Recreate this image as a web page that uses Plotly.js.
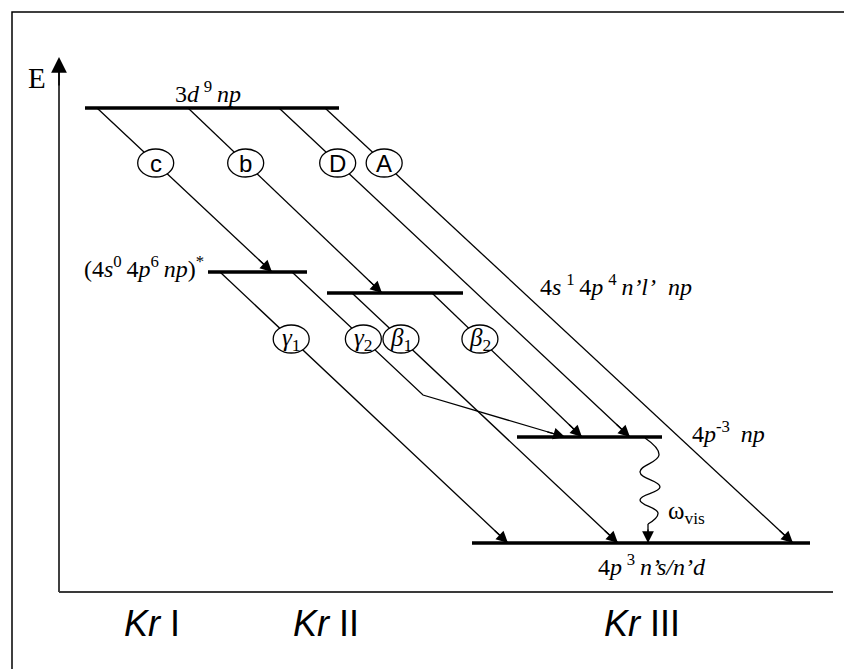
<!DOCTYPE html>
<html><head><meta charset="utf-8">
<script src="https://cdn.plot.ly/plotly-3.0.1.min.js"></script>
<style>html,body{margin:0;padding:0;background:#fff}</style>
</head><body><div id="chart" style="width:844px;height:669px"></div>
<script>
const T = '\u2009'; // thin space used around superscripts, as in the reference typesetting

// ---- Energy levels (E = energy in arbitrary diagram units; x = horizontal extent) ----
const levelNames = [
  '3<i>d</i>' + T + '<sup>9</sup>' + T + '<i>np</i>',
  '(4<i>s</i><sup>0</sup>' + T + '4<i>p</i><sup>6</sup>' + T + '<i>np</i>)<sup>*</sup>',
  '',
  '4<i>p</i><sup>-3</sup>' + T + ' <i>np</i>',
  '4<i>p</i>' + T + '<sup>3</sup>' + T + '<i>n’s/n’d</i>'
];
const levelE  = [484, 320, 299, 155, 49];
const levelX0 = [85, 208, 327, 517, 472];
const levelX1 = [339, 307, 463, 662, 810];
const intermediateLabel = '4<i>s</i>' + T + '<sup>1</sup>' + T + '4<i>p</i>' + T + '<sup>4</sup>' + T + '<i>n’l’</i>  <i>np</i>';

// ---- Transitions ----
const transLabels = ['c', 'b', 'D', 'A', '<i>γ</i><sub>1</sub>', '<i>γ</i><sub>2</sub>', '<i>β</i><sub>1</sub>', '<i>β</i><sub>2</sub>'];
const transFrom   = [0, 0, 0, 0, 1, 1, 2, 2];
const transFromX  = [97, 188, 279, 325, 220, 292, 352, 432];
const transTo     = [1, 2, 3, 4, 4, 3, 4, 3];
const transToX    = [272, 382, 630, 793, 508, 565, 618, 582];
const transBendX  = [null, null, null, null, null, 423, null, null];
const transBendE  = [null, null, null, null, null, 197, null, null];
const transLabelE = [429, 429, 429, 429, 253, 253, 253, 253];

// ---- Radiative decay (wavy line) ----
const waveX = [645, 659, 640, 660, 640, 658, 648];
const waveE = [154, 137, 120, 105, 92, 79, 68];

// ---- Ion stage labels ----
const stageLabels = ['<i>Kr</i> I', '<i>Kr</i> II', '<i>Kr</i> III'];
const stageX = [152, 326, 642];

const SERIF = '"Liberation Serif", "Times New Roman", serif';
const SANS = '"Liberation Sans", Arial, sans-serif';

const traces = [];
const shapes = [];
const annotations = [];

// frame
shapes.push({type:'rect', xref:'x', yref:'y', x0:12, x1:900, y0:-200, y1:580, line:{color:'#000', width:1.5}, fillcolor:'rgba(0,0,0,0)', layer:'below'});

// axes
traces.push({x:[59,59], y:[0,522], mode:'lines', line:{color:'#000', width:1.5}, hoverinfo:'skip'});
traces.push({x:[59,833], y:[0,0], mode:'lines', line:{color:'#3a3a3a', width:2}, hoverinfo:'skip'});
annotations.push({x:59, y:535, ax:59, ay:505, xref:'x', yref:'y', axref:'x', ayref:'y', text:'', showarrow:true, arrowhead:2, arrowsize:2.1, arrowwidth:1.5, arrowcolor:'#000'});
annotations.push({x:37, y:514, xref:'x', yref:'y', text:'E', showarrow:false, font:{family:SERIF, size:29, color:'#000'}});

// levels
levelE.forEach((E, i) => {
  traces.push({x:[levelX0[i], levelX1[i]], y:[E, E], mode:'lines', line:{color:'#000', width:3.5}, hoverinfo:'skip'});
});

// transitions
transLabels.forEach((lab, i) => {
  const x0 = transFromX[i], e0 = levelE[transFrom[i]];
  const x1 = transToX[i], e1 = levelE[transTo[i]];
  const xs = [x0], es = [e0];
  if (transBendX[i] !== null) { xs.push(transBendX[i]); es.push(transBendE[i]); }
  xs.push(x1); es.push(e1);
  traces.push({x:xs, y:es, mode:'lines', line:{color:'#000', width:1.3}, hoverinfo:'skip'});
  // arrowhead at the end of the last segment
  const px = xs[xs.length-2], pe = es[es.length-2];
  const L = Math.hypot(x1-px, e1-pe);
  const tx = x1 - (x1-px)/L*20, te = e1 - (e1-pe)/L*20;
  annotations.push({x:x1, y:e1, ax:tx, ay:te, xref:'x', yref:'y', axref:'x', ayref:'y', text:'', showarrow:true, arrowhead:2, arrowsize:1.8, arrowwidth:1.3, arrowcolor:'#000'});
  // label circle on first segment
  const le = transLabelE[i];
  const sx = xs[1], se = es[1];
  const cx = x0 + (sx - x0) * (le - e0) / (se - e0);
  shapes.push({type:'circle', xref:'x', yref:'y', x0:cx-18, x1:cx+18, y0:le-14, y1:le+14, fillcolor:'#fff', line:{color:'#000', width:1.3}, layer:'above'});
  const greek = lab.indexOf('<i>') === 0;
  annotations.push({x:cx, y:le, xref:'x', yref:'y', text:lab, showarrow:false, xanchor:'center', yanchor:'middle',
    font:{family: greek ? SERIF : SANS, size: greek ? 25 : 24, color:'#000'}});
});

// wavy decay
traces.push({x:waveX, y:waveE, mode:'lines', line:{color:'#000', width:1.3, shape:'spline', smoothing:1.3}, hoverinfo:'skip'});
traces.push({x:[waveX[waveX.length-1], waveX[waveX.length-1]], y:[waveE[waveE.length-1], levelE[4]], mode:'lines', line:{color:'#000', width:1.3}, hoverinfo:'skip'});
annotations.push({x:waveX[waveX.length-1], y:levelE[4], ax:waveX[waveX.length-1], ay:levelE[4]+15, xref:'x', yref:'y', axref:'x', ayref:'y', text:'', showarrow:true, arrowhead:2, arrowsize:1.8, arrowwidth:1.3, arrowcolor:'#000'});
annotations.push({x:666, y:80, xref:'x', yref:'y', text:'ω<sub>vis</sub>', showarrow:false, xanchor:'left', yanchor:'middle', font:{family:SERIF, size:25, color:'#000'}});

// level labels
const lf = {family:SERIF, size:24, color:'#000'};
annotations.push({x:208, y:500, xref:'x', yref:'y', text:levelNames[0], showarrow:false, xanchor:'center', yanchor:'middle', font:lf});
annotations.push({x:206, y:325, xref:'x', yref:'y', text:levelNames[1], showarrow:false, xanchor:'right', yanchor:'middle', font:lf});
annotations.push({x:538, y:307, xref:'x', yref:'y', text:intermediateLabel, showarrow:false, xanchor:'left', yanchor:'middle', font:lf});
annotations.push({x:690, y:160, xref:'x', yref:'y', text:levelNames[3], showarrow:false, xanchor:'left', yanchor:'middle', font:lf});
annotations.push({x:652, y:27, xref:'x', yref:'y', text:levelNames[4], showarrow:false, xanchor:'center', yanchor:'middle', font:lf});

// ion stage labels
stageLabels.forEach((t, i) => {
  annotations.push({x:stageX[i], y:-31, xref:'x', yref:'y', text:t, showarrow:false, xanchor:'center', yanchor:'middle', font:{family:SANS, size:36, color:'#000'}});
});

const layout = {
  width:844, height:669,
  margin:{l:0, r:0, t:0, b:0},
  paper_bgcolor:'#fff', plot_bgcolor:'#fff',
  showlegend:false,
  xaxis:{range:[0,844], visible:false, fixedrange:true},
  yaxis:{range:[-77,592], visible:false, fixedrange:true},
  shapes:shapes, annotations:annotations
};
Plotly.newPlot('chart', traces, layout, {staticPlot:true, displayModeBar:false});
</script>
</body></html>
